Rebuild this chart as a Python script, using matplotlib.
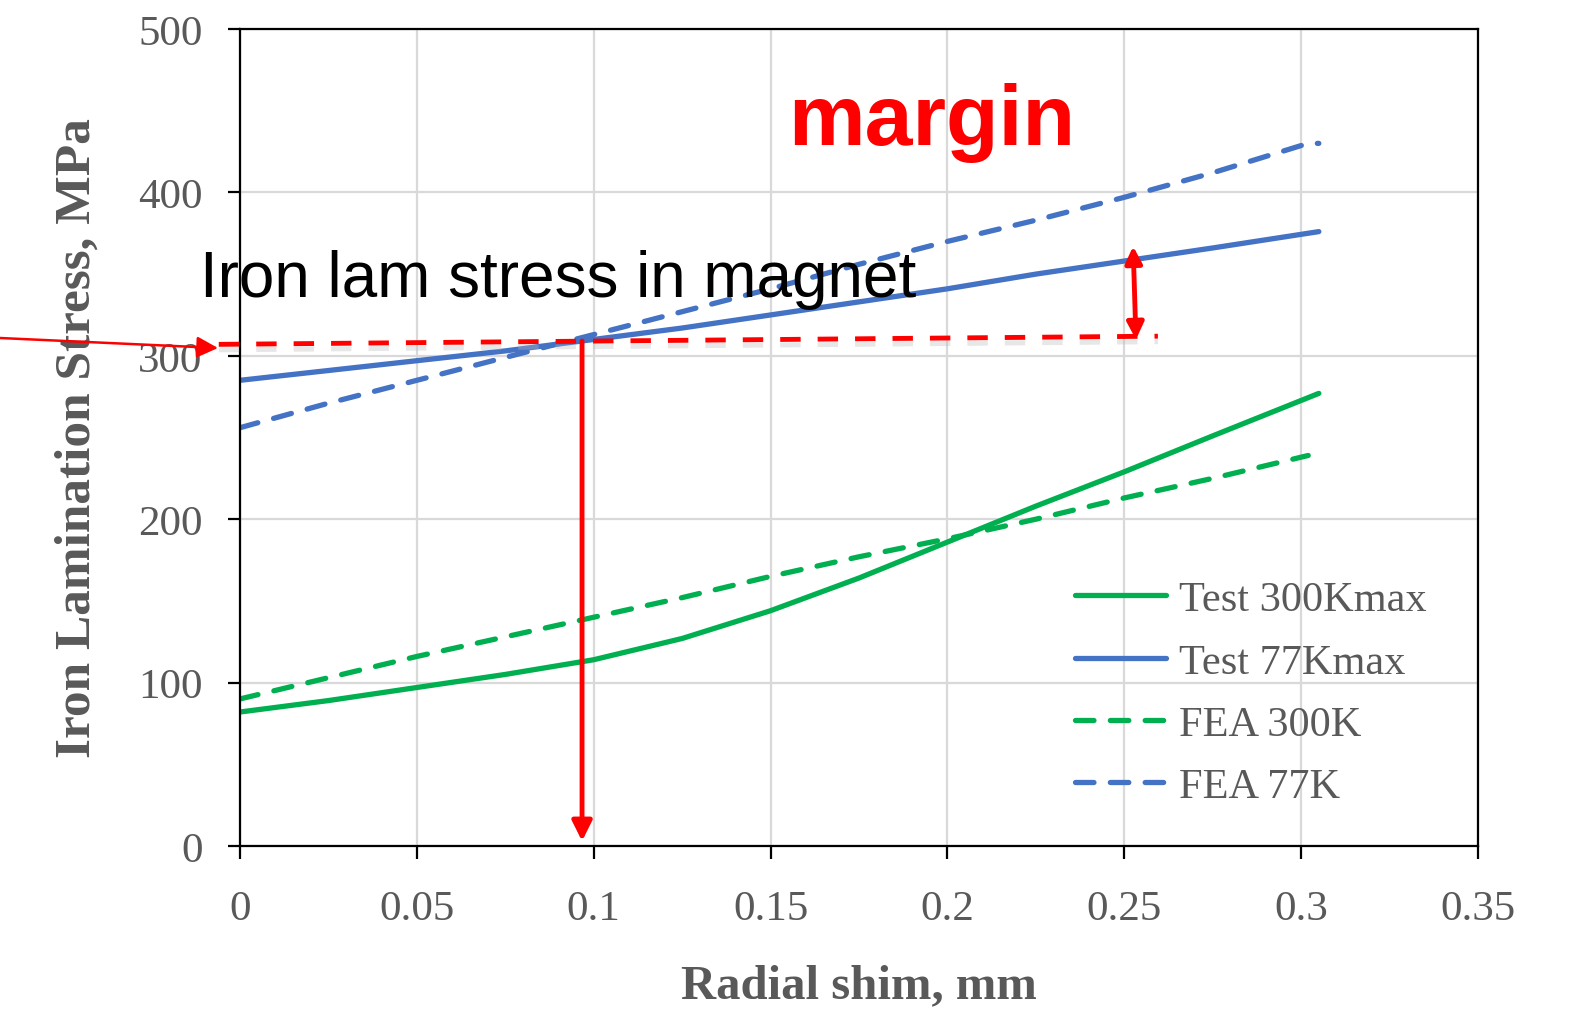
import numpy as np
import matplotlib
matplotlib.use("Agg")
import matplotlib.pyplot as plt
import matplotlib.patheffects as pe

# radial shim (mm) and lamination stress (MPa)
shim = [0, 0.025, 0.05, 0.075, 0.1, 0.125, 0.15, 0.175, 0.2, 0.225, 0.25, 0.275, 0.305]
test_300k = [82, 89, 97, 105, 114, 127, 144, 164, 186, 208, 229, 251, 277]
test_77k = [285, 291, 297, 303, 310, 317, 325, 333, 341, 350, 358, 366, 376]
fea_shim = [0, 0.025, 0.05, 0.075, 0.1, 0.125, 0.15, 0.175, 0.2, 0.225, 0.25, 0.275, 0.302]
fea_300k = [90, 103, 116, 128, 140, 152, 165, 177, 188, 200, 213, 225, 239]
fea_77k = [256, 271, 285, 299, 313, 327, 341, 356, 370, 383, 397, 412, 430]

magnet_stress = [307, 312]      # stress level in magnet, left / right end
margin_x = 0.2525
margin_top = 367
shim_at_limit = 0.0967

green = "#00B050"
blue = "#4472C4"
red = "#FF0000"
gray = "#595959"

plt.rcParams["font.family"] = ["Liberation Serif", "DejaVu Serif"]

fig = plt.figure(figsize=(15.73, 10.12), dpi=100)
ax = fig.add_axes([240 / 1573, 1 - 847 / 1012, 1238 / 1573, 817 / 1012])

ax.plot(shim, test_300k, color=green, lw=3.8, solid_capstyle="round", label="Test 300Kmax")
ax.plot(shim, test_77k, color=blue, lw=3.8, solid_capstyle="round", label="Test 77Kmax")
ax.plot(fea_shim, fea_300k, color=green, lw=3.8, dashes=(3.5, 3.1), dash_capstyle="round", label="FEA 300K")
ax.plot(fea_shim + [0.305], fea_77k + [430], color=blue, lw=3.8, dashes=(3.5, 3.1),
        dash_capstyle="round", label="FEA 77K")

ax.set_xlim(0, 0.35)
ax.set_ylim(0, 500)
ax.set_xticks(np.arange(0, 0.351, 0.05))
ax.set_xticklabels(["0", "0.05", "0.1", "0.15", "0.2", "0.25", "0.3", "0.35"])
ax.set_yticks(range(0, 501, 100))
ax.grid(True, color="#d9d9d9", lw=1.6)
ax.set_axisbelow(True)
for s in ax.spines.values():
    s.set_linewidth(1.6)
    s.set_color("black")
ax.tick_params(axis="both", direction="out", length=9, width=1.6,
               labelsize=31, labelcolor=gray)
ax.tick_params(axis="y", pad=18)
ax.tick_params(axis="x", pad=22)

ax.set_xlabel("Radial shim, mm", fontsize=35, fontweight="bold", color=gray, labelpad=26)
ax.set_ylabel("Iron Lamination Stress, MPa", fontsize=37, fontweight="bold", color=gray, labelpad=27)

leg = ax.legend(loc="upper left", bbox_to_anchor=(0.6745, 0.325), frameon=False,
                fontsize=30.5, handlelength=2.15, handletextpad=0.3, labelspacing=0.56,
                borderpad=0, borderaxespad=0)
for t in leg.get_texts():
    t.set_color(gray)

# margin annotations
shadow = [pe.SimpleLineShadow(offset=(0, -4), shadow_color="#bbbbbb", alpha=0.35), pe.Normal()]
ax.plot([-0.006, 0.2595], magnet_stress, color=red, lw=3.5, dashes=(4.2, 3.5),
        clip_on=False, path_effects=shadow, zorder=5)
ax.annotate("", xy=(shim_at_limit, 3), xytext=(shim_at_limit, magnet_stress[0] + 2),
            arrowprops=dict(arrowstyle="-|>", color=red, lw=3.5, mutation_scale=30,
                            shrinkA=0, shrinkB=0), zorder=6)
ax.annotate("", xy=(margin_x, margin_top), xytext=(margin_x + 0.0008, magnet_stress[1] - 2),
            arrowprops=dict(arrowstyle="<|-|>", color=red, lw=3.5, mutation_scale=25,
                            shrinkA=0, shrinkB=0), zorder=6)
ax.annotate("", xy=(218 / 1573, 1 - 349 / 1012), xycoords="figure fraction",
            xytext=(0, 1 - 339 / 1012), textcoords="figure fraction",
            arrowprops=dict(arrowstyle="-|>", color=red, lw=1.8, mutation_scale=32,
                            shrinkA=0, shrinkB=0))

fig.text(200 / 1573, 1 - 297 / 1012, "Iron lam stress in magnet", fontsize=46,
         family=["Liberation Sans", "DejaVu Sans"], color="black", va="baseline")
fig.text(932 / 1573, 1 - 145 / 1012, "margin", fontsize=62, fontweight="bold",
         family=["Liberation Sans", "DejaVu Sans"], color=red, va="baseline", ha="center")

fig.savefig("out.png", dpi=100)
